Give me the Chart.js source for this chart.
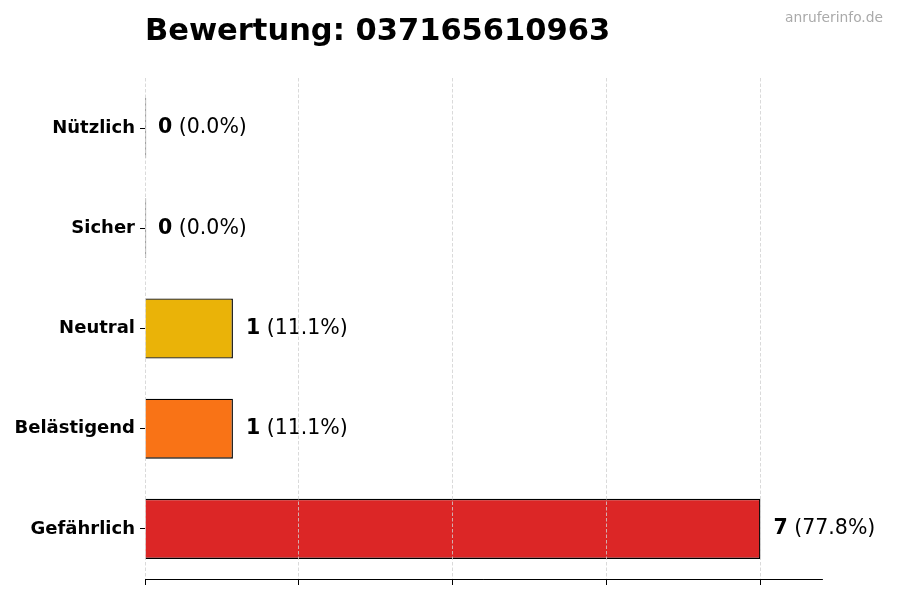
<!DOCTYPE html>
<html>
<head>
<meta charset="utf-8">
<script src="https://cdn.jsdelivr.net/npm/chart.js@4"></script>
<style>
  html, body { margin: 0; padding: 0; background: #fff; }
  #wrap { width: 900px; height: 600px; }
</style>
</head>
<body>
<div id="wrap"><canvas id="ratingChart" width="900" height="600"></canvas></div>
<script>
// Chart data
const categories = ['Nützlich', 'Sicher', 'Neutral', 'Belästigend', 'Gefährlich'];
const counts = [0, 0, 1, 1, 7];
const barColors = ['#16a34a', '#2563eb', '#eab308', '#f97316', '#dc2626'];
const xTicks = [0, 1.75, 3.5, 5.25, 7];
const xMax = 7.7;
const chartTitle = 'Bewertung: 037165610963';
const watermark = 'anruferinfo.de';

const total = counts.reduce((a, b) => a + b, 0);
const FONT = '"DejaVu Sans", sans-serif';

// Title + watermark
const headerPlugin = {
    id: 'header',
    afterDraw(chart) {
        const ctx = chart.ctx;
        ctx.save();
        ctx.fillStyle = '#000';
        ctx.font = 'bold 30.5px ' + FONT;
        ctx.textAlign = 'left';
        ctx.textBaseline = 'alphabetic';
        ctx.fillText(chartTitle, chart.chartArea.left, 40);

        ctx.fillStyle = '#aaaaaa';
        ctx.font = '13.8px ' + FONT;
        ctx.textAlign = 'right';
        ctx.fillText(watermark, 883, 22);
        ctx.restore();
    }
};

// Value labels next to each bar: bold count + percentage
const valueLabels = {
    id: 'valueLabels',
    afterDatasetsDraw(chart) {
        const ctx = chart.ctx;
        const meta = chart.getDatasetMeta(0);
        ctx.save();
        ctx.textBaseline = 'middle';
        ctx.textAlign = 'left';
        ctx.fillStyle = '#000';
        meta.data.forEach((bar, i) => {
            const v = counts[i];
            const pct = total ? (v / total * 100).toFixed(1) : '0.0';
            const x0 = chart.scales.x.getPixelForValue(v) + 13;
            ctx.font = 'bold 20.5px ' + FONT;
            const num = String(v);
            ctx.fillText(num, x0, bar.y);
            const w = ctx.measureText(num).width;
            ctx.font = '20.5px ' + FONT;
            ctx.fillText(' (' + pct + '%)', x0 + w, bar.y);
        });
        ctx.restore();
    }
};

document.addEventListener('DOMContentLoaded', function() {
    const canvas = document.getElementById('ratingChart');
    new Chart(canvas, {
        type: 'bar',
        data: {
            labels: categories,
            datasets: [{
                data: counts,
                backgroundColor: barColors,
                borderColor: '#000',
                borderWidth: 1.4,
                // zero-value bars collapse to a thin dark edge line
                borderSkipped: ctx => counts[ctx.dataIndex] === 0 ? false : 'start',
                minBarLength: 1.2,
                barPercentage: 0.6,
                categoryPercentage: 1
            }]
        },
        options: {
            indexAxis: 'y',
            responsive: false,
            animation: false,
            devicePixelRatio: 1,
            layout: {
                padding: { top: 78, right: 78, bottom: 0, left: 0 }
            },
            plugins: {
                legend: { display: false },
                tooltip: { enabled: false }
            },
            scales: {
                x: {
                    min: 0,
                    max: xMax,
                    afterBuildTicks(scale) {
                        scale.ticks = xTicks.map(v => ({ value: v }));
                    },
                    afterFit(scale) {
                        scale.height = 21;
                    },
                    ticks: { display: false },
                    border: { display: true, color: '#000', width: 1, dash: [3.5, 2], z: 2 },
                    grid: {
                        z: 1,
                        color: '#d0d0d0',
                        lineWidth: 0.8,
                        drawTicks: true,
                        tickLength: 6,
                        tickColor: '#000',
                        tickWidth: 1,
                        tickBorderDash: []
                    }
                },
                y: {
                    afterFit(scale) {
                        scale.width = 145;
                    },
                    border: { display: false },
                    grid: {
                        offset: false,
                        drawOnChartArea: false,
                        drawTicks: true,
                        tickLength: 5,
                        tickColor: '#000',
                        color: '#000'
                    },
                    ticks: {
                        color: '#000',
                        padding: 5,
                        font: { family: FONT, size: 18, weight: 'bold' }
                    }
                }
            }
        },
        plugins: [valueLabels, headerPlugin]
    });
});
</script>
</body>
</html>
